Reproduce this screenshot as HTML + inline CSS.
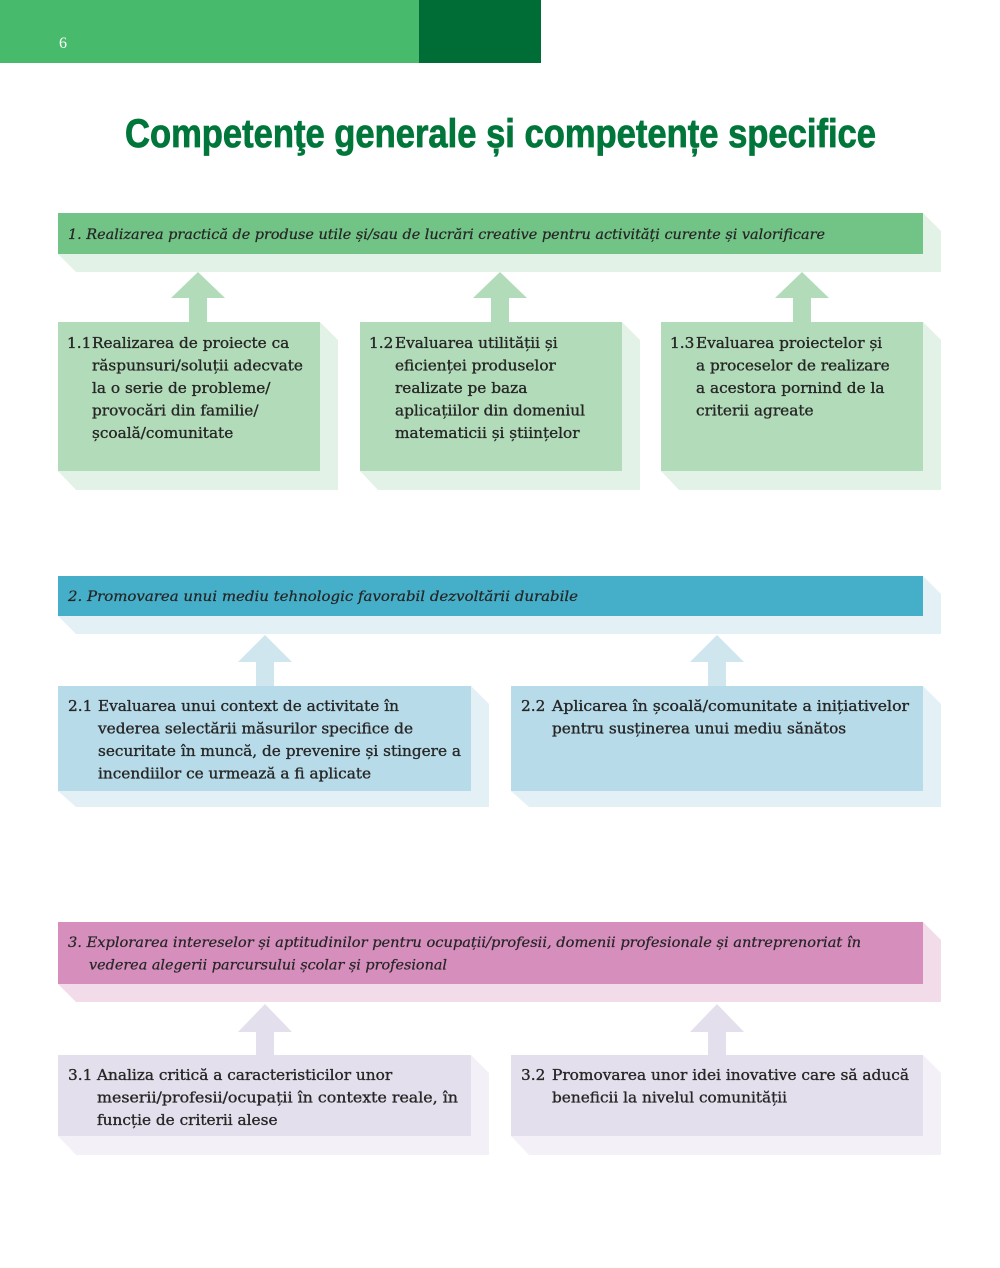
<!DOCTYPE html>
<html><head><meta charset="utf-8"><style>
html,body{margin:0;padding:0;background:#fff}
svg{display:block}
.t{font-family:"DejaVu Serif","Liberation Serif",serif;font-size:15.3px;fill:#262626;stroke:#262626;stroke-width:0.35px}
.b{font-family:"DejaVu Serif","Liberation Serif",serif;font-size:14px;font-style:italic;fill:#262626;stroke:#262626;stroke-width:0.25px}
</style></head><body>
<svg width="1000" height="1268" viewBox="0 0 1000 1268" xmlns="http://www.w3.org/2000/svg">
<rect x="0" y="0" width="420" height="63" fill="#47bb6b"/>
<rect x="419" y="0" width="122" height="63" fill="#006d36"/>
<text x="59" y="48" font-family="Liberation Serif,serif" font-size="16" fill="#fff">6</text>
<text x="125" y="147" font-family="Liberation Sans,sans-serif" font-weight="bold" font-size="40" fill="#00763a" stroke="#00763a" stroke-width="0.8" textLength="751" lengthAdjust="spacingAndGlyphs">Competenţe generale și competențe specifice</text>

<!-- Section 1 -->
<polygon points="58,213 923,213 941,231 941,272 76,272 58,254" fill="#e3f2e6"/>
<rect x="58" y="213" width="865" height="41" fill="#72c386"/>
<text class="b" x="68" y="239" textLength="757" lengthAdjust="spacingAndGlyphs">1.  Realizarea practică de produse utile și/sau de lucrări creative pentru activități curente și valorificare</text>

<g fill="#b2dcb9">
<polygon points="171,298 198,272 225,298 207,298 207,323 189,323 189,298"/>
<polygon points="473,298 500,272 527,298 509,298 509,323 491,323 491,298"/>
<polygon points="775,298 802,272 829,298 811,298 811,323 793,323 793,298"/>
</g>
<g fill="#e3f2e6">
<polygon points="58,322 320,322 338,340 338,490 76,490 58,471"/>
<polygon points="360,322 622,322 640,340 640,490 378,490 360,471"/>
<polygon points="661,322 923,322 941,340 941,490 679,490 661,471"/>
</g>
<g fill="#b2dcb9">
<rect x="58" y="322" width="262" height="149"/>
<rect x="360" y="322" width="262" height="149"/>
<rect x="661" y="322" width="262" height="149"/>
</g>
<text class="t" x="67" y="348">1.1</text>
<text class="t"><tspan x="92" y="348">Realizarea de proiecte ca</tspan><tspan x="92" dy="22.5">răspunsuri/soluții adecvate</tspan><tspan x="92" dy="22.5">la o serie de probleme/</tspan><tspan x="92" dy="22.5">provocări din familie/</tspan><tspan x="92" dy="22.5">școală/comunitate</tspan></text>
<text class="t" x="369" y="348">1.2</text>
<text class="t"><tspan x="395" y="348">Evaluarea utilității și</tspan><tspan x="395" dy="22.5">eficienței produselor</tspan><tspan x="395" dy="22.5">realizate pe baza</tspan><tspan x="395" dy="22.5">aplicațiilor din domeniul</tspan><tspan x="395" dy="22.5">matematicii și științelor</tspan></text>
<text class="t" x="670" y="348">1.3</text>
<text class="t"><tspan x="696" y="348">Evaluarea proiectelor și</tspan><tspan x="696" dy="22.5">a proceselor de realizare</tspan><tspan x="696" dy="22.5">a acestora pornind de la</tspan><tspan x="696" dy="22.5">criterii agreate</tspan></text>

<!-- Section 2 -->
<polygon points="58,576 923,576 941,594 941,634 76,634 58,616" fill="#e3f0f5"/>
<rect x="58" y="576" width="865" height="40" fill="#45afc9"/>
<text class="b" x="68" y="601" textLength="510" lengthAdjust="spacingAndGlyphs">2.   Promovarea unui mediu tehnologic favorabil dezvoltării durabile</text>
<g fill="#cfe6ef">
<polygon points="238,662 265,635 292,662 274,662 274,686 256,686 256,662"/>
<polygon points="690,662 717,635 744,662 726,662 726,686 708,686 708,662"/>
</g>
<g fill="#e3f0f5">
<polygon points="58,686 471,686 489,704 489,807 76,807 58,791"/>
<polygon points="511,686 923,686 941,704 941,807 529,807 511,791"/>
</g>
<g fill="#b7dbe8">
<rect x="58" y="686" width="413" height="105"/>
<rect x="511" y="686" width="412" height="105"/>
</g>
<text class="t" x="68" y="711">2.1</text>
<text class="t"><tspan x="98" y="711">Evaluarea unui context de activitate în</tspan><tspan x="98" dy="22.5">vederea selectării măsurilor specifice de</tspan><tspan x="98" dy="22.5" textLength="363" lengthAdjust="spacingAndGlyphs">securitate în muncă, de prevenire și stingere a</tspan><tspan x="98" dy="22.5">incendiilor ce urmează a fi aplicate</tspan></text>
<text class="t" x="521" y="711">2.2</text>
<text class="t"><tspan x="552" y="711" textLength="357" lengthAdjust="spacingAndGlyphs">Aplicarea în școală/comunitate a inițiativelor</tspan><tspan x="552" dy="22.5">pentru susținerea unui mediu sănătos</tspan></text>

<!-- Section 3 -->
<polygon points="58,922 923,922 941,940 941,1002 76,1002 58,984" fill="#f3dcea"/>
<rect x="58" y="922" width="865" height="62" fill="#d68ebd"/>
<text class="b"><tspan x="68" y="947" textLength="793" lengthAdjust="spacingAndGlyphs">3.  Explorarea intereselor și aptitudinilor pentru ocupații/profesii, domenii profesionale și antreprenoriat în</tspan><tspan x="89" dy="22.5" textLength="358" lengthAdjust="spacingAndGlyphs">vederea alegerii parcursului școlar și profesional</tspan></text>
<g fill="#e3dfec">
<polygon points="238,1032 265,1004 292,1032 274,1032 274,1055 256,1055 256,1032"/>
<polygon points="690,1032 717,1004 744,1032 726,1032 726,1055 708,1055 708,1032"/>
</g>
<g fill="#f3f0f7">
<polygon points="58,1055 471,1055 489,1073 489,1155 76,1155 58,1136"/>
<polygon points="511,1055 923,1055 941,1073 941,1155 529,1155 511,1136"/>
</g>
<g fill="#e3dfec">
<rect x="58" y="1055" width="413" height="81"/>
<rect x="511" y="1055" width="412" height="81"/>
</g>
<text class="t" x="68" y="1080">3.1</text>
<text class="t"><tspan x="97" y="1080">Analiza critică a caracteristicilor unor</tspan><tspan x="97" dy="22.5" textLength="361" lengthAdjust="spacingAndGlyphs">meserii/profesii/ocupații în contexte reale, în</tspan><tspan x="97" dy="22.5">funcție de criterii alese</tspan></text>
<text class="t" x="521" y="1080">3.2</text>
<text class="t"><tspan x="552" y="1080" textLength="357" lengthAdjust="spacingAndGlyphs">Promovarea unor idei inovative care să aducă</tspan><tspan x="552" dy="22.5">beneficii la nivelul comunității</tspan></text>
</svg>
</body></html>
